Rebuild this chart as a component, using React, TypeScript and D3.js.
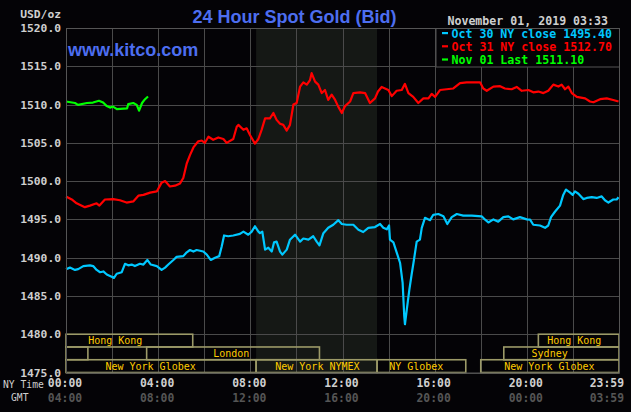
import React from "react";
import * as d3 from "d3";

const yTicks = [1475, 1480, 1485, 1490, 1495, 1500, 1505, 1510, 1515, 1520];
const gridHours = [0, 2, 4, 6, 8, 10, 12, 14, 16, 18, 20, 22, 24];
const timeHours = [0, 4, 8, 12, 16, 20, 24];
const nyLabels = ["00:00", "04:00", "08:00", "12:00", "16:00", "20:00", "23:59"];
const gmtLabels = ["04:00", "08:00", "12:00", "16:00", "20:00", "00:00", "03:59"];

// [hour (NY time), price]
const oct30: [number, number][] = [[0,1488.5],[0.17,1488.7],[0.39,1488.4],[0.53,1488.5],[0.75,1488.9],[1.04,1489.0],[1.18,1488.9],[1.33,1488.4],[1.48,1488.1],[1.62,1488.2],[1.77,1487.8],[1.98,1487.5],[2.08,1487.35],[2.2,1487.9],[2.42,1488.1],[2.56,1489.2],[2.7,1489.0],[2.85,1489.1],[2.99,1488.9],[3.21,1489.2],[3.36,1489.1],[3.53,1489.7],[3.68,1489.1],[3.94,1488.9],[4.15,1488.4],[4.3,1488.7],[4.44,1489.1],[4.66,1489.7],[4.8,1490.1],[5.09,1490.2],[5.24,1490.7],[5.38,1491.0],[5.53,1490.8],[5.67,1491.0],[5.96,1490.8],[6.11,1490.4],[6.28,1489.7],[6.47,1490.0],[6.65,1490.2],[6.76,1491.5],[6.86,1492.9],[7.04,1492.8],[7.26,1492.9],[7.55,1493.1],[7.7,1493.4],[7.91,1493.0],[8.06,1493.4],[8.2,1494.1],[8.35,1493.4],[8.42,1493.2],[8.52,1493.4],[8.64,1491.05],[8.78,1491.3],[8.93,1490.8],[9.03,1492.0],[9.14,1492.1],[9.29,1490.8],[9.39,1490.4],[9.58,1491.05],[9.72,1492.35],[9.94,1493.0],[10.16,1492.1],[10.3,1492.5],[10.52,1492.35],[10.73,1492.8],[10.88,1492.1],[11.0,1491.6],[11.17,1493.2],[11.38,1493.9],[11.6,1494.3],[11.82,1494.9],[11.97,1494.4],[12.18,1494.3],[12.47,1494.3],[12.69,1493.65],[12.9,1493.35],[13.12,1493.9],[13.41,1494.0],[13.63,1494.4],[13.77,1493.9],[13.92,1493.7],[14.02,1494.2],[14.06,1492.35],[14.21,1492.0],[14.35,1490.7],[14.5,1489.3],[14.61,1486.7],[14.68,1482.35],[14.71,1481.3],[14.79,1483.2],[14.9,1485.8],[15.0,1487.8],[15.1,1489.7],[15.22,1492.1],[15.36,1492.35],[15.44,1493.9],[15.58,1495.2],[15.8,1494.9],[15.94,1495.6],[16.16,1495.7],[16.38,1495.4],[16.55,1494.4],[16.74,1495.3],[16.96,1495.7],[17.24,1495.5],[17.61,1495.5],[18.04,1495.4],[18.19,1494.96],[18.33,1494.6],[18.55,1495.0],[18.76,1494.7],[18.98,1495.3],[19.2,1495.4],[19.41,1495.0],[19.7,1495.3],[20.0,1495.0],[20.14,1494.96],[20.28,1494.3],[20.57,1494.2],[20.79,1493.9],[20.93,1494.2],[21.05,1495.3],[21.22,1496.0],[21.44,1496.8],[21.58,1498.2],[21.7,1498.9],[21.88,1498.5],[21.99,1498.2],[22.09,1498.65],[22.24,1498.35],[22.45,1497.65],[22.6,1497.8],[22.82,1497.9],[23.03,1497.8],[23.25,1498.0],[23.39,1497.5],[23.54,1497.2],[23.75,1497.6],[23.9,1497.6],[23.98,1497.9]];

const oct31: [number, number][] = [[0,1498.0],[0.25,1497.6],[0.46,1497.1],[0.82,1496.6],[1.04,1496.8],[1.33,1497.1],[1.45,1496.8],[1.69,1497.6],[2.05,1497.65],[2.34,1497.5],[2.63,1497.2],[2.92,1497.35],[3.14,1498.1],[3.36,1498.2],[3.65,1498.5],[3.94,1498.65],[4.15,1499.8],[4.3,1500.0],[4.51,1499.3],[4.73,1499.4],[4.95,1499.7],[5.09,1500.4],[5.24,1502.3],[5.38,1503.4],[5.53,1504.4],[5.74,1505.2],[5.89,1505.3],[6.03,1505.0],[6.18,1505.8],[6.39,1505.4],[6.61,1505.7],[6.83,1505.5],[6.97,1505.0],[7.26,1505.5],[7.41,1507.1],[7.48,1507.35],[7.7,1506.7],[7.84,1506.9],[7.99,1506.0],[8.2,1504.9],[8.35,1505.5],[8.49,1506.7],[8.64,1508.2],[8.85,1508.2],[9.0,1508.9],[9.14,1508.0],[9.29,1507.5],[9.43,1507.35],[9.58,1506.6],[9.72,1507.35],[9.87,1510.0],[10.01,1510.2],[10.16,1512.35],[10.3,1512.9],[10.45,1512.6],[10.59,1513.2],[10.66,1514.1],[10.81,1513.0],[10.95,1512.6],[11.1,1511.5],[11.24,1511.9],[11.38,1510.6],[11.53,1511.3],[11.68,1510.6],[11.82,1509.7],[11.97,1508.9],[12.11,1509.8],[12.33,1510.4],[12.47,1511.5],[12.76,1511.6],[12.98,1511.5],[13.19,1510.2],[13.41,1510.8],[13.54,1511.7],[13.7,1512.3],[13.99,1511.9],[14.14,1511.1],[14.35,1511.8],[14.57,1511.9],[14.71,1512.7],[14.86,1511.5],[15.07,1511.0],[15.29,1510.2],[15.51,1510.8],[15.73,1510.8],[15.87,1511.4],[16.02,1511.0],[16.23,1511.9],[16.52,1512.0],[16.81,1512.1],[17.1,1512.8],[17.39,1512.9],[17.97,1512.9],[18.11,1512.1],[18.26,1511.8],[18.55,1512.35],[18.84,1512.4],[19.05,1512.1],[19.34,1512.0],[19.56,1512.3],[19.78,1511.8],[20.07,1511.9],[20.28,1511.6],[20.5,1511.7],[20.72,1511.5],[20.93,1511.8],[21.15,1512.6],[21.37,1512.35],[21.51,1512.6],[21.66,1512.0],[21.8,1512.35],[21.95,1511.5],[22.17,1511.0],[22.53,1510.8],[22.74,1510.4],[22.89,1510.3],[23.18,1510.7],[23.47,1510.8],[23.75,1510.6],[23.98,1510.4]];

const nov01: [number, number][] = [[0,1510.4],[0.39,1510.2],[0.52,1509.96],[0.91,1510.2],[1.17,1510.26],[1.43,1510.5],[1.61,1510.26],[1.77,1509.8],[1.91,1509.6],[2.04,1509.74],[2.21,1509.4],[2.65,1509.5],[2.7,1510.05],[2.92,1510.2],[3.07,1509.96],[3.17,1509.2],[3.3,1510.2],[3.43,1510.7],[3.56,1511.05]];

const legendLabels = ["Oct 30 NY close 1495.40", "Oct 31 NY close 1512.70", "Nov 01 Last 1511.10"];
const seriesColors = ["#00c8ff", "#ff0000", "#00ff00"];

// markets: row, start hour, end hour, label, label-center hour
const markets: { row: number; start: number; end: number; label: string; at: number }[] = [
  { row: 0, start: 0, end: 5.5, label: "Hong Kong", at: 2.14 },
  { row: 0, start: 20.5, end: 24, label: "Hong Kong", at: 22.06 },
  { row: 1, start: 0, end: 0.95, label: "", at: 0 },
  { row: 1, start: 3.5, end: 11, label: "London", at: 7.17 },
  { row: 1, start: 19, end: 24, label: "Sydney", at: 20.99 },
  { row: 2, start: 0, end: 8.25, label: "New York Globex", at: 3.67 },
  { row: 2, start: 8.25, end: 13.5, label: "New York NYMEX", at: 10.91 },
  { row: 2, start: 13.5, end: 17.35, label: "NY Globex", at: 15.2 },
  { row: 2, start: 18, end: 24, label: "New York Globex", at: 20.98 },
];
const pitStart = 8.25;
const pitEnd = 13.5;

const W = 631, H = 412;
const L = 66, R = 619, T = 28, B = 372.5;

export default function App() {
  const x = d3.scaleLinear().domain([0, 24]).range([L, R]);
  const y = d3.scaleLinear().domain([1475, 1520]).range([B, T]);
  const line = d3.line<[number, number]>().x(d => x(d[0])).y(d => y(d[1]));
  const mono = "'DejaVu Sans Mono', monospace";
  const rowTop = (r: number) => y(1480) + r * ((B - y(1480)) / 3);
  const rowH = (B - y(1480)) / 3;
  const series = [oct30, oct31, nov01];

  return (
    <svg width={W} height={H} style={{ position: "absolute", left: 0, top: 0, display: "block" }}>
      <rect x={0} y={0} width={W} height={H} fill="#040306" />
      <rect x={x(pitStart)} y={T} width={x(pitEnd) - x(pitStart)} height={B - T} fill="#151815" />
      {yTicks.map(v => (
        <line key={"h" + v} x1={L} x2={R} y1={Math.round(y(v)) + 0.5} y2={Math.round(y(v)) + 0.5} stroke="#4a4a4a" strokeWidth={1} />
      ))}
      {gridHours.map(h => (
        <line key={"v" + h} x1={Math.round(x(h)) + 0.5} x2={Math.round(x(h)) + 0.5} y1={T} y2={B} stroke="#4a4a4a" strokeWidth={1} />
      ))}
      {markets.map((m, i) => (
        <g key={"m" + i}>
          <rect x={x(m.start)} y={rowTop(m.row)} width={x(m.end) - x(m.start)} height={rowH} fill="none" stroke="#9c9a68" strokeWidth={1.6} />
          {m.label && (
            <text x={x(m.at)} y={rowTop(m.row) + rowH - 3} textAnchor="middle" fill="#ffcc00" fontFamily={mono} fontSize={10}>{m.label}</text>
          )}
        </g>
      ))}
      {series.map((s, i) => (
        <path key={"s" + i} d={line(s) || ""} fill="none" stroke={seriesColors[i]} strokeWidth={2.2} strokeLinejoin="round" />
      ))}
      <rect x={L + 0.5} y={T + 0.5} width={R - L} height={B - T} fill="none" stroke="#555" strokeWidth={1} />
      {/* legend */}
      <rect x={436} y={T + 0.5} width={R - 436 + 0.5} height={38.5} fill="#040306" stroke="#555" strokeWidth={1} />
      {legendLabels.map((t, i) => (
        <g key={"l" + i}>
          <rect x={442} y={32 + i * 13.2} width={6} height={2.2} fill={seriesColors[i]} />
          <text x={451.5} y={38 + i * 13.2} fill={seriesColors[i]} fontFamily={mono} fontWeight="bold" fontSize={11.6}>{t}</text>
        </g>
      ))}
      {/* title and texts */}
      <text x={294.5} y={23} textAnchor="middle" fill="#4d6ef0" fontFamily="'Liberation Sans', Arial, sans-serif" fontWeight="bold" fontSize={18}>24 Hour Spot Gold (Bid)</text>
      <text x={68} y={56} fill="#4d6ef0" fontFamily="'Liberation Sans', Arial, sans-serif" fontWeight="bold" fontSize={18}>www.kitco.com</text>
      <text x={608} y={25} textAnchor="end" fill="#cfcfcf" fontFamily={mono} fontWeight="bold" fontSize={11.6}>November 01, 2019 03:33</text>
      <text x={61} y={18} textAnchor="end" fill="#cfcfcf" fontFamily={mono} fontWeight="bold" fontSize={11.3}>USD/oz</text>
      {yTicks.map(v => (
        <text key={"yl" + v} x={61} y={y(v) + 4} textAnchor="end" fill="#cfcfcf" fontFamily={mono} fontWeight="bold" fontSize={11.3}>{v.toFixed(1)}</text>
      ))}
      <text x={3} y={388} fill="#cfcfcf" fontFamily={mono} fontSize={9.7}>NY Time</text>
      <text x={11} y={401} fill="#cfcfcf" fontFamily={mono} fontSize={9.7}>GMT</text>
      {timeHours.map((h, i) => (
        <g key={"t" + h}>
          <text x={i === timeHours.length - 1 ? 624 : x(h) - 1} y={387} textAnchor={i === timeHours.length - 1 ? "end" : "middle"} fill="#cfcfcf" fontFamily={mono} fontWeight="bold" fontSize={11.4}>{nyLabels[i]}</text>
          <text x={i === timeHours.length - 1 ? 624 : x(h) - 1} y={402} textAnchor={i === timeHours.length - 1 ? "end" : "middle"} fill="#555555" fontFamily={mono} fontWeight="bold" fontSize={11.4}>{gmtLabels[i]}</text>
        </g>
      ))}
    </svg>
  );
}
